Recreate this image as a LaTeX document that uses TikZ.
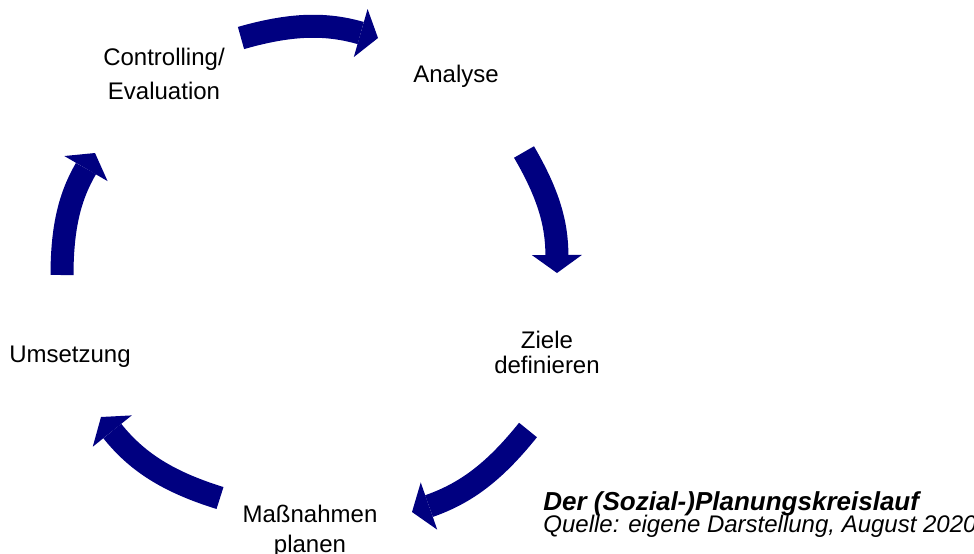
\documentclass[tikz,border=0pt]{standalone}
\usepackage{fontspec}
\setmainfont{Liberation Sans}
\usetikzlibrary{arrows.meta}
\definecolor{cyclenavy}{RGB}{0,0,128}

\begin{document}
\begin{tikzpicture}[x=0.5pt, y=0.5pt,
	stage/.style={align=center, inner sep=0pt, anchor=base, font=\fontsize{12}{17}\selectfont},
	cyclearrow/.style={draw=cyclenavy, line width=11.5pt, -{Triangle[width=25pt, length=9pt, line width=0pt]}}]
	\useasboundingbox (0,0) rectangle (974,-553);
	
	\node[stage] (ctrl) at (164,-99) {Controlling/\\Evaluation};
	\node[stage] (analyse) at (456,-82) {Analyse};
	\node[stage, font=\fontsize{12}{12.5}\selectfont] (ziele) at (547,-373) {Ziele\\definieren};
	\node[stage, font=\fontsize{12}{15}\selectfont] (massnahmen) at (310,-552) {Maßnahmen\\planen};
	\node[stage] (umsetzung) at (70,-362) {Umsetzung};
	
	\node[anchor=base west, inner sep=0pt, font=\fontsize{13}{15}\selectfont\bfseries\itshape] (title) at (543,-510) {Der (Sozial-)Planungskreislauf};
	\node[anchor=base west, inner sep=0pt, font=\fontsize{12}{14}\selectfont\itshape] (quelle) at (543,-532) {Quelle: eigene Darstellung, August 2020};
	
	\coordinate (a1s) at (241,-38);
	\coordinate (a1e) at (378,-38);
	\coordinate (a2s) at (524,-152);
	\coordinate (a2e) at (557,-273);
	\coordinate (a3s) at (528,-430);
	\coordinate (a3e) at (412,-512);
	\coordinate (a4s) at (220,-498);
	\coordinate (a4e) at (101,-417);
	\coordinate (a5s) at (62,-275);
	\coordinate (a5e) at (95,-153);
	
	\draw[cyclearrow] (a1s) to[bend left=16] (a1e);
	\draw[cyclearrow] (a2s) to[bend left=15] (a2e);
	\draw[cyclearrow] (a3s) to[bend left=16] (a3e);
	\draw[cyclearrow] (a4s) to[bend left=17] (a4e);
	\draw[cyclearrow] (a5s) to[bend left=15] (a5e);
\end{tikzpicture}
\end{document}
